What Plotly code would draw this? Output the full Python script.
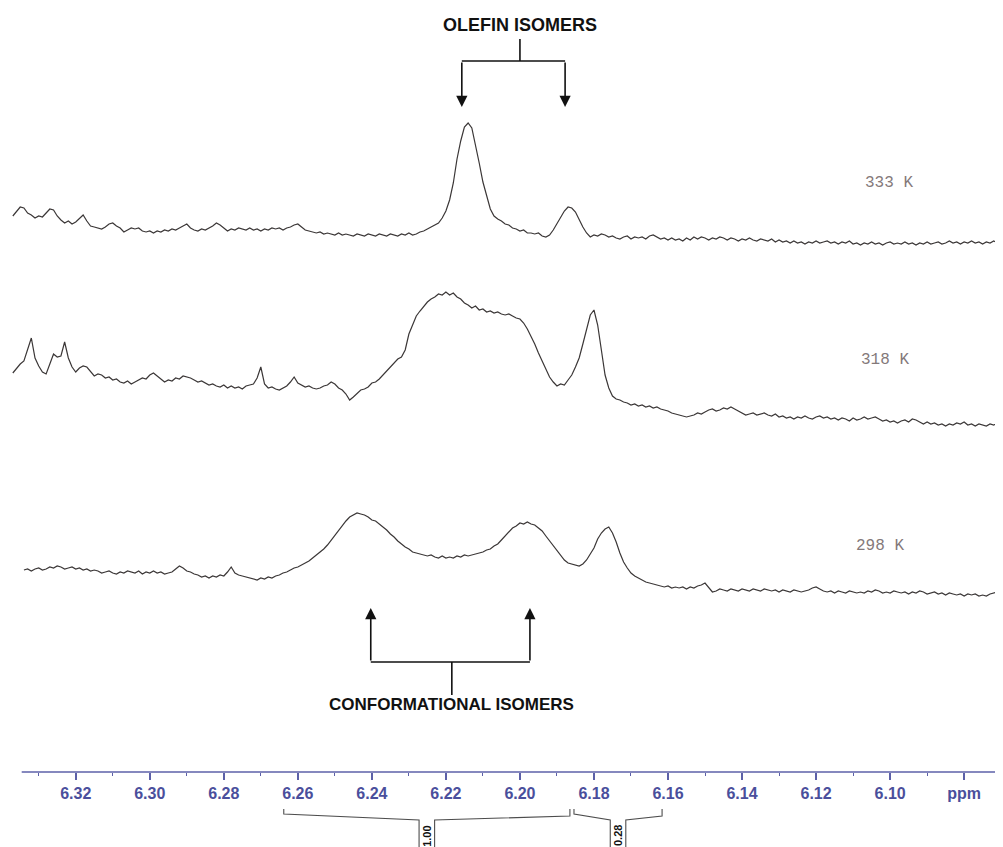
import plotly.graph_objects as go

# ---------------- data ----------------
ppm = [
    6.337, 6.336, 6.335, 6.334, 6.333, 6.332, 6.331, 6.330, 6.329, 6.328,
    6.327, 6.326, 6.325, 6.324, 6.323, 6.322, 6.321, 6.320, 6.319, 6.318,
    6.317, 6.316, 6.315, 6.314, 6.313, 6.312, 6.311, 6.310, 6.309, 6.308,
    6.307, 6.306, 6.305, 6.304, 6.303, 6.302, 6.301, 6.300, 6.299, 6.298,
    6.297, 6.296, 6.295, 6.294, 6.293, 6.292, 6.291, 6.290, 6.289, 6.288,
    6.287, 6.286, 6.285, 6.284, 6.283, 6.282, 6.281, 6.280, 6.279, 6.278,
    6.277, 6.276, 6.275, 6.274, 6.273, 6.272, 6.271, 6.270, 6.269, 6.268,
    6.267, 6.266, 6.265, 6.264, 6.263, 6.262, 6.261, 6.260, 6.259, 6.258,
    6.257, 6.256, 6.255, 6.254, 6.253, 6.252, 6.251, 6.250, 6.249, 6.248,
    6.247, 6.246, 6.245, 6.244, 6.243, 6.242, 6.241, 6.240, 6.239, 6.238,
    6.237, 6.236, 6.235, 6.234, 6.233, 6.232, 6.231, 6.230, 6.229, 6.228,
    6.227, 6.226, 6.225, 6.224, 6.223, 6.222, 6.221, 6.220, 6.219, 6.218,
    6.217, 6.216, 6.215, 6.214, 6.213, 6.212, 6.211, 6.210, 6.209, 6.208,
    6.207, 6.206, 6.205, 6.204, 6.203, 6.202, 6.201, 6.200, 6.199, 6.198,
    6.197, 6.196, 6.195, 6.194, 6.193, 6.192, 6.191, 6.190, 6.189, 6.188,
    6.187, 6.186, 6.185, 6.184, 6.183, 6.182, 6.181, 6.180, 6.179, 6.178,
    6.177, 6.176, 6.175, 6.174, 6.173, 6.172, 6.171, 6.170, 6.169, 6.168,
    6.167, 6.166, 6.165, 6.164, 6.163, 6.162, 6.161, 6.160, 6.159, 6.158,
    6.157, 6.156, 6.155, 6.154, 6.153, 6.152, 6.151, 6.150, 6.149, 6.148,
    6.147, 6.146, 6.145, 6.144, 6.143, 6.142, 6.141, 6.140, 6.139, 6.138,
    6.137, 6.136, 6.135, 6.134, 6.133, 6.132, 6.131, 6.130, 6.129, 6.128,
    6.127, 6.126, 6.125, 6.124, 6.123, 6.122, 6.121, 6.120, 6.119, 6.118,
    6.117, 6.116, 6.115, 6.114, 6.113, 6.112, 6.111, 6.110, 6.109, 6.108,
    6.107, 6.106, 6.105, 6.104, 6.103, 6.102, 6.101, 6.100, 6.099, 6.098,
    6.097, 6.096, 6.095, 6.094, 6.093, 6.092, 6.091, 6.090, 6.089, 6.088,
    6.087, 6.086, 6.085, 6.084, 6.083, 6.082, 6.081, 6.080, 6.079, 6.078,
    6.077, 6.076, 6.075, 6.074, 6.073, 6.072, 6.071, 6.070, 6.069,
]

int_333K = [
    29, 33, 38, 37, 32, 30, 27, 29, 28, 32,
    36, 35, 29, 25, 22, 24, 21, 23, 27, 30,
    24, 19, 18, 17, 16, 18, 21, 22, 19, 17,
    13, 15, 17, 16, 17, 14, 13, 14, 12, 14,
    13, 15, 14, 16, 15, 17, 19, 21, 17, 15,
    14, 16, 15, 17, 19, 22, 20, 17, 14, 16,
    15, 17, 16, 15, 17, 15, 16, 14, 16, 15,
    17, 16, 17, 15, 17, 18, 20, 21, 18, 15,
    14, 13, 12, 13, 11, 12, 11, 10, 12, 10,
    11, 10, 9, 11, 10, 9, 11, 10, 9, 11,
    10, 9, 11, 10, 9, 11, 10, 12, 10, 11,
    13, 14, 16, 18, 20, 22, 27, 34, 45, 62,
    86, 104, 118, 122, 117, 101, 82, 63, 48, 36,
    29, 26, 24, 21, 20, 17, 16, 14, 15, 12,
    12, 11, 12, 9, 8, 10, 15, 21, 28, 34,
    38, 37, 33, 25, 18, 12, 8, 10, 9, 11,
    10, 8, 9, 7, 6, 8, 9, 6, 8, 7,
    8, 6, 9, 10, 8, 6, 7, 5, 7, 5,
    6, 4, 7, 5, 8, 6, 8, 7, 5, 7,
    6, 8, 7, 5, 7, 6, 4, 6, 5, 7,
    5, 4, 6, 5, 4, 6, 3, 5, 3, 4,
    2, 4, 2, 3, 1, 3, 2, 4, 2, 3,
    4, 2, 3, 1, 3, 2, 4, 1, 2, 0,
    2, 1, 3, 1, 2, 0, 2, 3, 1, 2,
    1, 3, 1, 2, 0, 2, 1, 3, 1, 2,
    3, 1, 2, 4, 2, 3, 1, 3, 2, 4,
    2, 3, 1, 3, 2, 4, 2, 3, 2,
]

int_318K = [
    57, 62, 66, 69, 80, 92, 72, 64, 58, 56,
    66, 76, 73, 74, 88, 72, 63, 58, 62, 64,
    63, 58, 54, 56, 55, 52, 53, 50, 51, 48,
    47, 49, 46, 48, 50, 52, 51, 55, 57, 54,
    51, 48, 50, 49, 52, 51, 54, 53, 52, 50,
    48, 49, 47, 45, 46, 44, 43, 45, 42, 44,
    42, 43, 41, 44, 45, 46, 52, 63, 46, 42,
    43, 41, 40, 42, 44, 48, 53, 47, 45, 43,
    44, 42, 41, 42, 44, 45, 48, 46, 42, 40,
    36, 30, 33, 37, 40, 41, 43, 47, 48, 51,
    55, 60, 63, 67, 71, 73, 80, 96, 106, 114,
    119, 124, 128, 131, 133, 136, 135, 138, 135, 137,
    133, 131, 127, 125, 122, 124, 120, 121, 118, 119,
    117, 118, 116, 115, 116, 114, 112, 111, 107, 101,
    94, 86, 77, 69, 61, 53, 48, 44, 46, 45,
    50, 55, 63, 72, 86, 102, 115, 120, 105, 80,
    55, 42, 34, 31, 30, 28, 27, 25, 26, 24,
    25, 23, 24, 22, 23, 21, 20, 19, 17, 16,
    15, 14, 13, 14, 15, 17, 16, 18, 20, 21,
    19, 20, 22, 21, 23, 21, 19, 17, 15, 16,
    17, 15, 16, 17, 15, 14, 16, 13, 14, 12,
    13, 11, 13, 12, 14, 12, 11, 13, 14, 12,
    13, 11, 12, 10, 12, 11, 9, 12, 10, 11,
    13, 11, 12, 13, 11, 9, 10, 8, 9, 7,
    9, 10, 8, 11, 10, 8, 6, 8, 6, 7,
    5, 6, 4, 6, 5, 7, 6, 8, 5, 6,
    4, 6, 5, 4, 6, 5, 7, 8, 6,
]

int_298K = [
    None, None, None, 30, 31, 29, 31, 32, 30, 31,
    33, 32, 34, 33, 31, 32, 33, 31, 32, 30,
    31, 29, 30, 29, 27, 28, 29, 27, 26, 28,
    27, 29, 28, 27, 29, 26, 28, 27, 29, 27,
    28, 26, 27, 28, 31, 34, 32, 29, 28, 26,
    25, 23, 24, 22, 24, 23, 25, 24, 28, 33,
    27, 25, 24, 23, 22, 21, 20, 22, 21, 23,
    22, 24, 25, 27, 28, 30, 32, 33, 35, 37,
    39, 42, 45, 48, 51, 55, 60, 65, 70, 74,
    79, 83, 85, 87, 86, 85, 83, 80, 79, 76,
    73, 70, 66, 63, 59, 56, 53, 51, 48, 47,
    46, 45, 44, 45, 43, 42, 44, 42, 43, 42,
    44, 43, 45, 44, 45, 46, 47, 48, 50, 51,
    54, 56, 60, 64, 68, 72, 74, 77, 76, 78,
    76, 75, 72, 69, 64, 59, 54, 49, 44, 40,
    37, 36, 35, 34, 36, 40, 46, 52, 61, 67,
    71, 73, 67, 58, 47, 38, 32, 27, 24, 22,
    20, 18, 17, 16, 15, 14, 13, 14, 12, 13,
    12, 13, 11, 13, 12, 14, 15, 17, 12, 8,
    9, 11, 10, 9, 11, 10, 9, 11, 10, 9,
    11, 10, 9, 11, 10, 9, 10, 8, 10, 9,
    8, 10, 9, 8, 9, 10, 12, 13, 11, 9,
    8, 9, 7, 9, 8, 7, 9, 8, 7, 8,
    7, 9, 8, 10, 9, 7, 8, 7, 9, 8,
    7, 8, 6, 8, 7, 9, 8, 6, 7, 8,
    6, 7, 5, 7, 6, 5, 6, 4, 6, 5,
    6, 4, 5, 4, 6, 7, 8, 7, None,
]

temperatures = ["333 K", "318 K", "298 K"]
tick_vals = [6.32, 6.30, 6.28, 6.26, 6.24, 6.22, 6.20, 6.18, 6.16, 6.14, 6.12, 6.10, 6.08]
tick_text = ["6.32", "6.30", "6.28", "6.26", "6.24", "6.22", "6.20", "6.18", "6.16",
             "6.14", "6.12", "6.10", "ppm"]
minor_vals = [6.33, 6.31, 6.29, 6.27, 6.25, 6.23, 6.21, 6.19, 6.17, 6.15, 6.13, 6.11, 6.09, 6.07]

olefin_peaks = [6.2157, 6.1878]        # arrows of "OLEFIN ISOMERS"
conformer_peaks = [6.2403, 6.1973]     # arrows of "CONFORMATIONAL ISOMERS"
integral_ranges = [(6.2638, 6.1865), (6.1854, 6.1616)]
integral_values = ["1.00", "0.28"]

# ---------------- styling / layout ----------------
# the page body has an 8px margin, so the figure starts at page (8, 8)
BODY = 8
W, H = 1003 - BODY, 847 - BODY
AXIS_PY = 772                      # page row of the ppm axis
PLOT_H = AXIS_PY - BODY            # plot area: page rows 8..772
MB = H - PLOT_H
X_RANGE = [6.3383, 6.0695]         # page columns 8..1003
offsets = [527, 342, 172]          # vertical stacking of the spectra
label_x = [6.1002, 6.1013, 6.1027]
label_py = [183, 360, 546]
LINE_COLOR = "#3b3737"
AXIS_COLOR = "#5c60a8"
TICK_FONT_COLOR = "#4a4f9c"
INK = "#111111"


def py(p):
    """page row -> paper y"""
    return (AXIS_PY - p) / PLOT_H


fig = go.Figure()
for series, off in zip([int_333K, int_318K, int_298K], offsets):
    fig.add_trace(go.Scatter(
        x=ppm, y=[None if v is None else v + off for v in series],
        mode="lines", line=dict(color=LINE_COLOR, width=1.2),
        connectgaps=False, hoverinfo="skip", showlegend=False))

shapes = []
annotations = []

# axis line (starts a little right of the left edge, as in the reference)
shapes.append(dict(type="line", xref="x", yref="paper", x0=6.3346, x1=X_RANGE[1],
                   y0=0, y1=0, line=dict(color=AXIS_COLOR, width=1.5)))

# temperature labels
for t, lx, lp in zip(temperatures, label_x, label_py):
    annotations.append(dict(text=t, x=lx, y=py(lp), xref="x", yref="paper",
                            xanchor="center", yanchor="middle", showarrow=False,
                            font=dict(family="Liberation Mono, Courier New, monospace",
                                      size=16, color="#84797a")))

BOLD = dict(family="Liberation Sans, Arial, sans-serif", color=INK, weight="bold")

# OLEFIN ISOMERS bracket
mid_top = 6.2000
annotations.append(dict(text="OLEFIN ISOMERS", x=mid_top, y=py(25), xref="x", yref="paper",
                        xanchor="center", yanchor="middle", showarrow=False,
                        font=dict(size=18, **BOLD)))
shapes.append(dict(type="line", xref="x", yref="paper", x0=mid_top, x1=mid_top,
                   y0=py(39), y1=py(61), line=dict(color=INK, width=1.6)))
shapes.append(dict(type="line", xref="x", yref="paper", x0=olefin_peaks[0], x1=olefin_peaks[1],
                   y0=py(61), y1=py(61), line=dict(color=INK, width=1.6)))
for p in olefin_peaks:
    annotations.append(dict(text="", x=p, y=py(107), xref="x", yref="paper",
                            showarrow=True, ax=0, ay=-46, arrowhead=2, arrowsize=1.4,
                            arrowwidth=1.6, arrowcolor=INK, standoff=0))

# CONFORMATIONAL ISOMERS bracket
mid_bot = 6.2184
annotations.append(dict(text="CONFORMATIONAL ISOMERS", x=mid_bot, y=py(704), xref="x",
                        yref="paper", xanchor="center", yanchor="middle", showarrow=False,
                        font=dict(size=17, **BOLD)))
shapes.append(dict(type="line", xref="x", yref="paper", x0=mid_bot, x1=mid_bot,
                   y0=py(662), y1=py(695), line=dict(color=INK, width=1.6)))
shapes.append(dict(type="line", xref="x", yref="paper", x0=conformer_peaks[0],
                   x1=conformer_peaks[1], y0=py(662), y1=py(662),
                   line=dict(color=INK, width=1.6)))
for p in conformer_peaks:
    annotations.append(dict(text="", x=p, y=py(608), xref="x", yref="paper",
                            showarrow=True, ax=0, ay=54, arrowhead=2, arrowsize=1.4,
                            arrowwidth=1.6, arrowcolor=INK, standoff=0))

# integration brackets under the axis
half_box = 0.0021
for (a, b), val in zip(integral_ranges, integral_values):
    m = (a + b) / 2
    path = (f"M {a},{py(809)} L {a},{py(814)} L {m + half_box},{py(820)} "
            f"L {m + half_box},{py(860)} M {m - half_box},{py(860)} "
            f"L {m - half_box},{py(820)} L {b},{py(816)} L {b},{py(809)}")
    shapes.append(dict(type="path", xref="x", yref="paper", path=path,
                       line=dict(color="#4d4d4d", width=1.1)))
    annotations.append(dict(text=val, x=m, y=py(836), xref="x", yref="paper",
                            xanchor="center", yanchor="middle",
                            showarrow=False, textangle=-90,
                            font=dict(family="Liberation Sans, Arial, sans-serif",
                                      size=11, color=INK, weight="bold")))

fig.update_layout(
    width=W, height=H,
    margin=dict(l=0, r=0, t=0, b=MB, pad=0),
    paper_bgcolor="white", plot_bgcolor="white",
    shapes=shapes, annotations=annotations,
    xaxis=dict(range=X_RANGE, showgrid=False, zeroline=False, showline=False,
               ticks="outside", ticklen=7, tickwidth=1.5, tickcolor=AXIS_COLOR,
               tickmode="array", tickvals=tick_vals, ticktext=tick_text,
               tickfont=dict(family="Liberation Sans, Arial, sans-serif", size=16,
                             color=TICK_FONT_COLOR, weight="bold"),
               minor=dict(ticks="outside", ticklen=3, tickwidth=1.2, tickcolor=AXIS_COLOR,
                          tickmode="array", tickvals=minor_vals, showgrid=False),
               fixedrange=True),
    yaxis=dict(range=[0, PLOT_H], visible=False, fixedrange=True),
)

fig.write_html("out.html")
